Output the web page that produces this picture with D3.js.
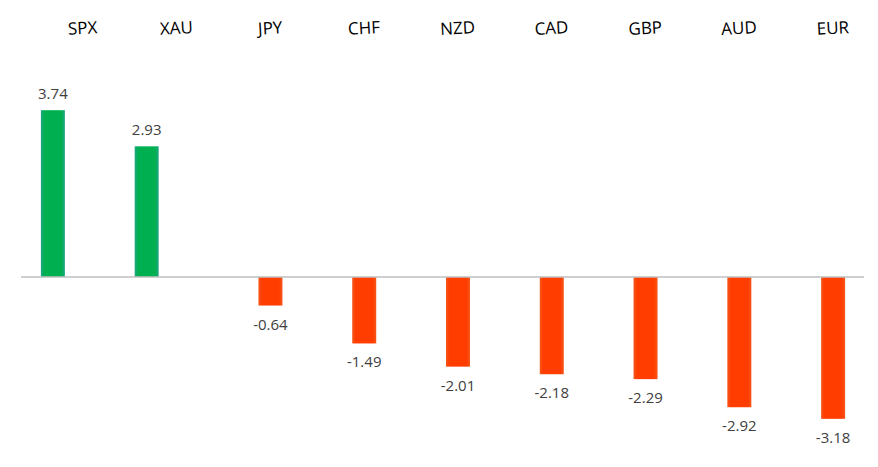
<!DOCTYPE html>
<html>
<head>
<meta charset="utf-8">
<script src="https://cdn.jsdelivr.net/npm/d3@7"></script>
<style>
  html, body { margin: 0; padding: 0; background: #ffffff; }
  svg { display: block; }
</style>
</head>
<body>
<svg id="chart" width="878" height="467"></svg>
<script>
// ---- data ----
const categories = ["SPX", "XAU", "JPY", "CHF", "NZD", "CAD", "GBP", "AUD", "EUR"];
const values = [3.74, 2.93, -0.64, -1.49, -2.01, -2.18, -2.29, -2.92, -3.18];
const valueLabels = ["3.74", "2.93", "-0.64", "-1.49", "-2.01", "-2.18", "-2.29", "-2.92", "-3.18"];

// ---- layout ----
const W = 878, H = 467;
const baselineY = 277;
const pxPerUnit = 44.6;
const barW = 24;
// the first two bars sit left of their header labels in the reference
const barShift = { SPX: -30, XAU: -30 };

const svg = d3.select("#chart");

const x = d3.scaleBand().domain(categories).range([36, 880]).padding(0);
const y = d3.scaleLinear().domain([0, 1]).range([baselineY, baselineY - pxPerUnit]);

const defs = svg.append("defs");
function grad(id, edge, core) {
  const g = defs.append("linearGradient").attr("id", id)
    .attr("x1", "0%").attr("x2", "100%").attr("y1", "0%").attr("y2", "0%");
  g.append("stop").attr("offset", "0%").attr("stop-color", edge);
  g.append("stop").attr("offset", "14%").attr("stop-color", core);
  g.append("stop").attr("offset", "86%").attr("stop-color", core);
  g.append("stop").attr("offset", "100%").attr("stop-color", edge);
}
grad("gPos", "#22a486", "#00b050");
grad("gNeg", "#f5561c", "#ff3d00");

const data = categories.map((c, i) => ({ c, v: values[i], label: valueLabels[i] }));
const cx = d => x(d.c) + x.bandwidth() / 2 + (barShift[d.c] || 0);

// bars
svg.append("g").selectAll("rect").data(data).join("rect")
  .attr("x", d => cx(d) - barW / 2)
  .attr("y", d => Math.min(y(d.v), y(0)))
  .attr("width", barW)
  .attr("height", d => Math.abs(y(d.v) - y(0)))
  .attr("fill", d => d.v >= 0 ? "url(#gPos)" : "url(#gNeg)");

// baseline
svg.append("line")
  .attr("x1", 21).attr("x2", 864)
  .attr("y1", y(0)).attr("y2", y(0))
  .attr("stroke", "#bfbfbf").attr("stroke-width", 1.5);

// value labels
svg.append("g").selectAll("text").data(data).join("text")
  .attr("x", cx)
  .attr("y", d => d.v >= 0 ? y(d.v) - 11 : y(d.v) + 24)
  .attr("text-anchor", "middle")
  .attr("font-family", "'Open Sans', sans-serif")
  .attr("font-size", 15)
  .attr("fill", "#404040")
  .text(d => d.label);

// header category labels
svg.append("g").selectAll("text").data(categories).join("text")
  .attr("transform", c => `translate(${x(c) + x.bandwidth() / 2},34) rotate(-3)`)
  .attr("text-anchor", "middle")
  .attr("font-family", "'Open Sans', sans-serif")
  .attr("font-size", 17)
  .attr("fill", "#000000")
  .text(c => c);
</script>
</body>
</html>
